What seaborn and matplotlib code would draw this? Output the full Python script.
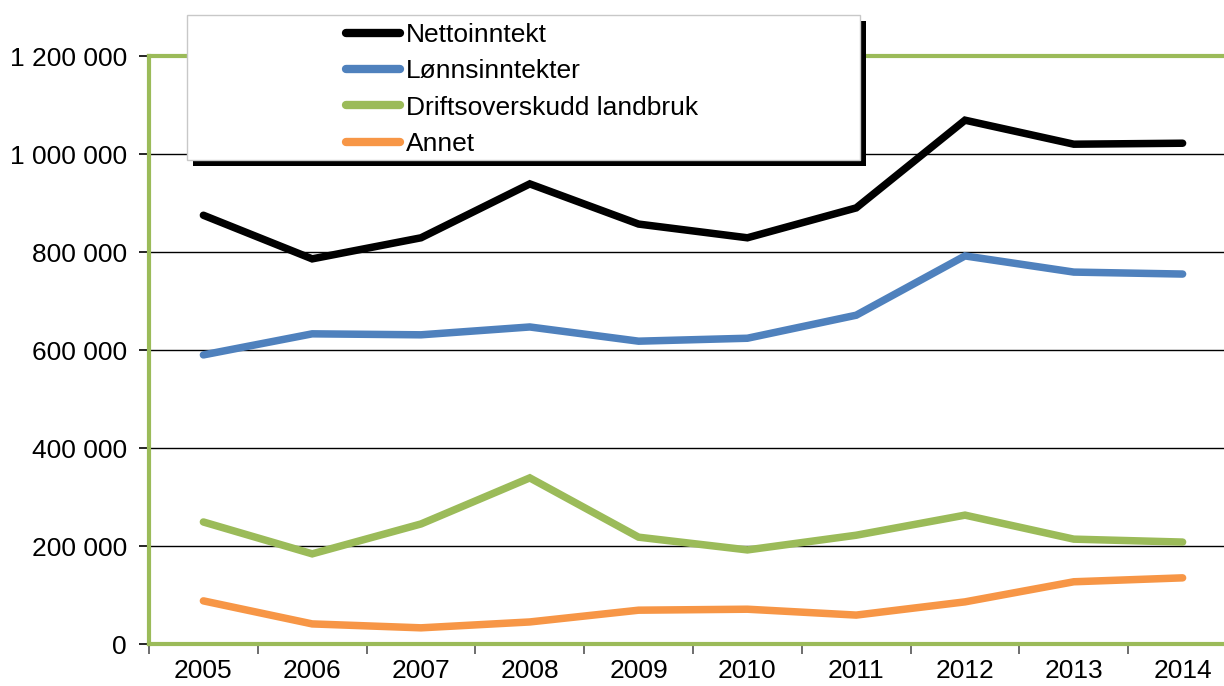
import matplotlib
matplotlib.use("Agg")
import matplotlib.pyplot as plt
import matplotlib.ticker as mticker
from matplotlib.patches import Rectangle
import seaborn as sns
import pandas as pd

years = ["2005", "2006", "2007", "2008", "2009", "2010", "2011", "2012", "2013", "2014"]
nettoinntekt = [875000, 786000, 829000, 939000, 857000, 829000, 890000, 1069000, 1020000, 1022000]
lonnsinntekter = [590000, 633000, 631000, 647000, 618000, 624000, 671000, 792000, 759000, 755000]
driftsoverskudd = [249000, 184000, 245000, 339000, 218000, 192000, 222000, 263000, 214000, 208000]
annet = [88000, 41000, 33000, 45000, 69000, 71000, 59000, 86000, 127000, 135000]
series_names = ["Nettoinntekt", "Lønnsinntekter", "Driftsoverskudd landbruk", "Annet"]
colors = ["#000000", "#4F81BD", "#9BBB59", "#F79646"]

rows = []
for name, vals in zip(series_names, [nettoinntekt, lonnsinntekter, driftsoverskudd, annet]):
    for i, (y, v) in enumerate(zip(years, vals)):
        rows.append({"idx": i, "year": y, "value": v, "serie": name})
df = pd.DataFrame(rows)

sns.set_theme(style="white")
plt.rcParams["font.family"] = ["Liberation Sans", "DejaVu Sans"]
plt.rcParams["text.color"] = "black"
plt.rcParams["xtick.color"] = "black"
plt.rcParams["ytick.color"] = "black"

W, H = 1224, 686
fig = plt.figure(figsize=(12.24, 6.86), dpi=100)
ax = fig.add_axes([149 / W, 1 - 644 / H, 1088 / W, (644 - 56) / H])

sns.lineplot(data=df, x="idx", y="value", hue="serie", palette=dict(zip(series_names, colors)),
             hue_order=series_names, linewidth=5.4, ax=ax, sort=False,
             solid_capstyle="round", solid_joinstyle="miter", legend=False)

ax.set_xlim(-0.5, 9.5)
ax.set_ylim(0, 1200000)
ax.set_xlabel("")
ax.set_ylabel("")

ax.set_xticks(range(len(years)))
ax.set_xticklabels(years, fontsize=19, color="black")
ax.set_xticks([i - 0.5 for i in range(len(years) + 1)], minor=True)
ax.tick_params(axis="x", which="major", length=0, pad=11)
ax.tick_params(axis="x", which="minor", length=7, width=1.2, color="#555555", direction="out", bottom=True)

ax.set_yticks(range(0, 1200001, 200000))
ax.yaxis.set_major_formatter(mticker.FuncFormatter(lambda v, p: f"{int(v):,}".replace(",", " ")))
ax.tick_params(axis="y", which="major", length=7, width=1.2, color="black", direction="out",
               left=True, labelsize=19, labelcolor="black", pad=9)

ax.grid(False)
for yv in range(200000, 1200000, 200000):
    ax.axhline(yv, color="black", linewidth=1.0, zorder=0.5)

for s in ["left", "top", "bottom"]:
    ax.spines[s].set_color("#9BBB59")
    ax.spines[s].set_linewidth(3)
ax.spines["right"].set_visible(False)

# legend box with shadow
bx0, bx1, by0, by1 = 187, 860, 15, 160
shadow = Rectangle(((bx0 + 6) / W, 1 - (by1 + 6) / H), (bx1 - bx0) / W, (by1 - by0) / H,
                   transform=fig.transFigure, facecolor="black", edgecolor="none",
                   zorder=4, clip_on=False)
box = Rectangle((bx0 / W, 1 - by1 / H), (bx1 - bx0) / W, (by1 - by0) / H,
                transform=fig.transFigure, facecolor="white", edgecolor="#C8C8C8",
                linewidth=1, zorder=4.1, clip_on=False)
ax.add_patch(shadow)
ax.add_patch(box)

handles = [plt.Line2D([], [], color=c, linewidth=6, solid_capstyle="round") for c in colors]
leg = ax.legend(handles, series_names, loc="center left",
                bbox_to_anchor=(346 / W, 1 - 89.5 / H), bbox_transform=fig.transFigure,
                frameon=False, fontsize=19, handlelength=2.05, handletextpad=0.22,
                labelspacing=0.47, borderpad=0, borderaxespad=0)
for t in leg.get_texts():
    t.set_color("black")
leg.set_zorder(5)

fig.savefig("out.png", dpi=100)
